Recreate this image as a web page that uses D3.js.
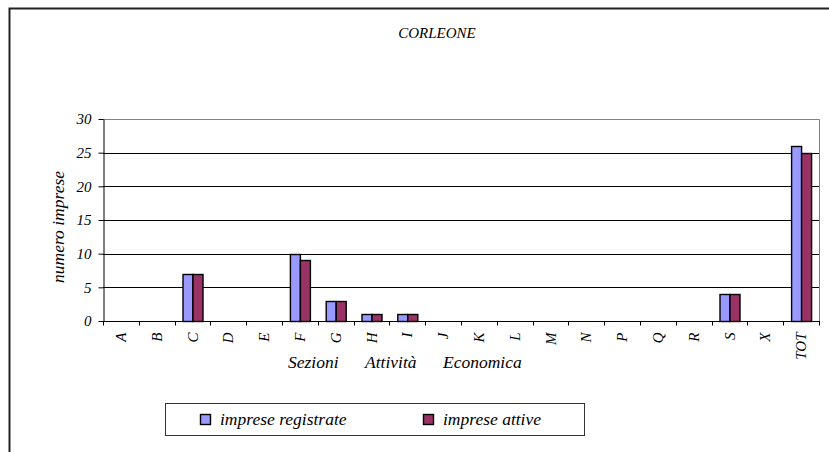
<!DOCTYPE html>
<html>
<head>
<meta charset="utf-8">
<script src="https://cdn.jsdelivr.net/npm/d3@7"></script>
</head>
<body style="margin:0">
<svg id="chart" width="829" height="452" font-family="Liberation Serif" font-style="italic"></svg>
<script>
// Sezioni di attività economica e numero di imprese
const categories = ["A","B","C","D","E","F","G","H","I","J","K","L","M","N","P","Q","R","S","X","TOT"];
const registrate = [0,0,7,0,0,10,3,1,1,0,0,0,0,0,0,0,0,4,0,26];
const attive     = [0,0,7,0,0,9,3,1,1,0,0,0,0,0,0,0,0,4,0,25];
const seriesNames = ["imprese registrate", "imprese attive"];
const seriesColors = ["#9999FF", "#993366"];
const yTicks = [0,5,10,15,20,25,30];

const svg = d3.select("#chart");
const plot = { left: 103, top: 119, right: 819, bottom: 321 };

function label(parent, size) {
  return parent.append("text")
    .attr("font-family", "Liberation Serif")
    .attr("font-style", "italic")
    .attr("font-size", size)
    .attr("fill", "#000");
}

// outer frame
svg.append("rect")
  .attr("x", 9.5).attr("y", 8.5)
  .attr("width", 900).attr("height", 500)
  .attr("fill", "none").attr("stroke", "#222").attr("stroke-width", 2);

label(svg, 15)
  .attr("x", 437).attr("y", 38)
  .attr("text-anchor", "middle")
  .text("CORLEONE");

const x = d3.scaleBand().domain(categories).range([plot.left, plot.right]);
const x1 = d3.scaleBand().domain(seriesNames).range([0, 20]);
const y = d3.scaleLinear().domain([0, 30]).range([plot.bottom, plot.top]);

// gridlines
svg.append("g").selectAll("line")
  .data(yTicks.filter(d => d > 0 && d < 30))
  .join("line")
  .attr("x1", plot.left).attr("x2", plot.right)
  .attr("y1", d => Math.round(y(d)) + 0.5).attr("y2", d => Math.round(y(d)) + 0.5)
  .attr("stroke", "#000").attr("stroke-width", 1);

// plot area top/right border
svg.append("path")
  .attr("d", `M${plot.left},${plot.top + 0.5}H${plot.right + 0.5}V${plot.bottom}`)
  .attr("fill", "none").attr("stroke", "#808080").attr("stroke-width", 1);

// bars
const groups = svg.append("g").selectAll("g")
  .data(categories.map((c, i) => ({ c, vals: [registrate[i], attive[i]] })))
  .join("g")
  .attr("transform", d => `translate(${x(d.c) + x.bandwidth() / 2 - 10},0)`);

groups.selectAll("rect")
  .data(d => d.vals.map((v, j) => ({ v, s: seriesNames[j], j })).filter(e => e.v > 0))
  .join("rect")
  .attr("x", e => x1(e.s) + 0.5)
  .attr("y", e => Math.round(y(e.v)) + 0.5)
  .attr("width", x1.bandwidth())
  .attr("height", e => Math.round(y(0)) - Math.round(y(e.v)))
  .attr("fill", e => seriesColors[e.j])
  .attr("stroke", "#000").attr("stroke-width", 1.4);

// y axis
const yAxis = svg.append("g")
  .attr("transform", `translate(${plot.left + 0.5},0)`)
  .call(d3.axisLeft(y).tickValues(yTicks).tickSize(5).tickSizeOuter(0).tickPadding(7));
yAxis.attr("font-family", "Liberation Serif").attr("font-size", 15);
yAxis.select(".domain").attr("stroke", "#000");
yAxis.selectAll(".tick line").attr("stroke", "#000");
yAxis.selectAll("text")
  .attr("font-family", "Liberation Serif")
  .attr("font-style", "italic")
  .attr("font-size", 15);

// x axis: ticks at category boundaries
const xAxisG = svg.append("g").attr("transform", `translate(0,${plot.bottom + 0.5})`);
xAxisG.append("line")
  .attr("x1", plot.left).attr("x2", plot.right + 1)
  .attr("stroke", "#000");
xAxisG.selectAll("line.tk")
  .data(categories.map(c => x(c)).concat([plot.right]))
  .join("line").attr("class", "tk")
  .attr("x1", d => Math.round(d) + 0.5).attr("x2", d => Math.round(d) + 0.5)
  .attr("y1", 0).attr("y2", 4)
  .attr("stroke", "#000");
categories.forEach(c => {
  label(xAxisG, 15)
    .attr("transform", `translate(${x(c) + x.bandwidth() / 2 + 5},11) rotate(-90)`)
    .attr("text-anchor", "end")
    .text(c);
});

// axis titles
const xTitle = ["Sezioni", "Attività", "Economica"];
const xTitlePos = [288, 365, 443];
xTitle.forEach((t, i) => {
  label(svg, 17.5).attr("x", xTitlePos[i]).attr("y", 368).text(t);
});

label(svg, 17.5)
  .attr("transform", "translate(64,227) rotate(-90)")
  .attr("text-anchor", "middle")
  .text("numero imprese");

// legend
const lg = svg.append("g");
lg.append("rect")
  .attr("x", 165.5).attr("y", 403.5).attr("width", 419).attr("height", 32)
  .attr("fill", "#fff").attr("stroke", "#333").attr("stroke-width", 1);
const legendX = [200, 423];
seriesNames.forEach((s, i) => {
  lg.append("rect")
    .attr("x", legendX[i] + 0.5).attr("y", 414.5).attr("width", 10).attr("height", 10)
    .attr("fill", seriesColors[i]).attr("stroke", "#000").attr("stroke-width", 1.4);
  label(lg, 17.5)
    .attr("x", legendX[i] + 20).attr("y", 425)
    .text(s);
});
</script>
</body>
</html>
